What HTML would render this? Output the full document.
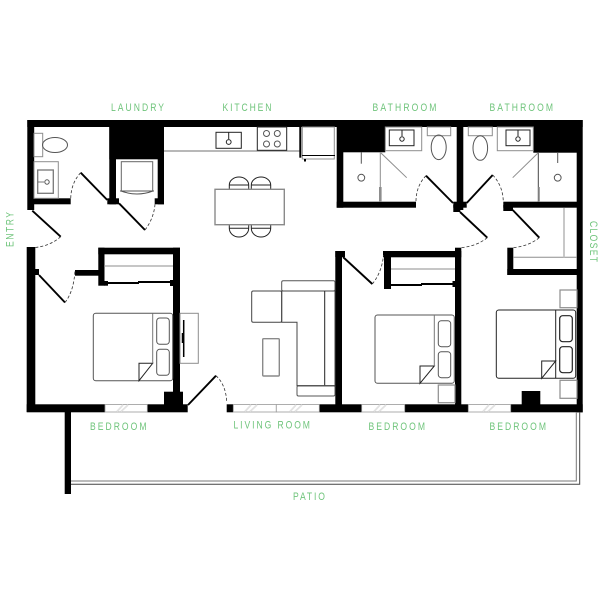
<!DOCTYPE html>
<html><head><meta charset="utf-8"><style>
html,body{margin:0;padding:0;background:#fff}
svg{display:block}
text{font-family:"Liberation Sans",sans-serif;font-size:11px;fill:#6fc47b}
</style></head><body>
<svg width="605" height="605" viewBox="0 0 605 605" xmlns="http://www.w3.org/2000/svg">
<rect width="605" height="605" fill="#fff"/>
<!-- walls -->
<g fill="#000">
<rect x="27.3" y="120" width="555.4" height="7"/>
<rect x="27.3" y="120" width="6.9" height="90"/>
<rect x="26.7" y="247" width="8.6" height="165"/>
<rect x="35" y="269" width="4" height="6"/>
<rect x="26.7" y="404.3" width="78.3" height="8"/>
<rect x="147.3" y="404.3" width="40.4" height="8"/>
<rect x="226.7" y="404.3" width="6.6" height="8"/>
<rect x="319.3" y="404.3" width="42.4" height="8"/>
<rect x="404.7" y="404.3" width="63.6" height="8"/>
<rect x="510.7" y="404.3" width="72" height="8"/>
<rect x="576.7" y="120" width="6" height="292.3"/>
<rect x="64.7" y="412" width="6.3" height="82"/>
<rect x="521.7" y="391" width="18.6" height="14"/>
<rect x="164" y="391.7" width="19" height="13"/>
<!-- bedroom 1 closet -->
<rect x="98.3" y="247.7" width="81.7" height="6.6"/>
<rect x="98.3" y="247.7" width="6.2" height="38"/>
<rect x="104" y="281" width="4" height="4.7"/>
<rect x="75" y="270" width="23.5" height="5.7"/>
<rect x="173" y="247.7" width="7" height="157"/>
<rect x="170" y="280" width="3.5" height="6"/>
<rect x="104" y="282" width="35" height="2"/>
<rect x="138" y="281" width="35" height="2"/>
<!-- laundry -->
<rect x="109.3" y="127" width="54.7" height="32.3"/>
<rect x="109.3" y="127" width="6.7" height="77.3"/>
<rect x="157.7" y="127" width="6.3" height="77.3"/>
<rect x="107.3" y="198.3" width="11.7" height="6"/>
<rect x="154.7" y="198.3" width="9.3" height="6"/>
<rect x="34" y="198.3" width="36.7" height="6"/>
<!-- bath 2 -->
<rect x="336.7" y="120" width="6.6" height="87.7"/>
<rect x="336.7" y="201.7" width="79.3" height="6"/>
<rect x="337" y="127" width="48.3" height="25.3"/>
<!-- bath 3 -->
<rect x="456.7" y="120" width="6.6" height="90"/>
<rect x="453.3" y="201.7" width="13.4" height="6"/>
<rect x="453.3" y="205" width="7" height="7"/>
<rect x="533.3" y="127" width="43.7" height="25.7"/>
<rect x="503.3" y="201.7" width="74" height="6"/>
<rect x="503.3" y="205" width="9.7" height="6"/>
<!-- closet 3 -->
<rect x="507.3" y="247.7" width="6" height="27.3"/>
<rect x="507.3" y="269" width="70" height="6"/>
<!-- center wall -->
<rect x="335.3" y="251" width="6.7" height="154"/>
<rect x="335.3" y="251" width="9.7" height="6"/>
<!-- bedroom 2 closet -->
<rect x="383" y="251" width="78.3" height="6.3"/>
<rect x="384" y="251" width="7" height="38"/>
<rect x="455" y="247.7" width="6.3" height="157"/>
<rect x="391" y="284" width="31" height="2"/>
<rect x="421" y="283" width="34" height="2"/>
<rect x="452.5" y="281" width="3" height="6"/>
</g>
<!-- door leaves -->
<g stroke="#000" stroke-width="1.9" fill="none">
<line x1="32.3" y1="210.7" x2="60.7" y2="236.7"/>
<line x1="39" y1="275" x2="65" y2="302.5"/>
<line x1="107.3" y1="200" x2="80.7" y2="172.7"/>
<line x1="119" y1="203.3" x2="145" y2="230"/>
<line x1="188" y1="405" x2="216" y2="375.7"/>
<line x1="343" y1="257" x2="372.3" y2="284"/>
<line x1="453" y1="203" x2="426" y2="175.7"/>
<line x1="466.7" y1="203" x2="492.7" y2="175"/>
<line x1="460" y1="212" x2="487.3" y2="237.7"/>
<line x1="512.7" y1="210" x2="539.3" y2="237.7"/>
</g>
<!-- door arcs -->
<g stroke="#333" stroke-width=".8" stroke-dasharray="3 2" fill="none">
<path d="M60.7 236.7Q50 246 35 247.5"/>
<path d="M65 302.5Q74 291 75 270"/>
<path d="M80.7 172.7Q71 183 70.7 199"/>
<path d="M145 230Q154 218 155 204"/>
<path d="M216 375.7Q226 385 226.7 402"/>
<path d="M372.3 284Q382 272 383.5 255"/>
<path d="M426 175.7Q416 186 416 201.7"/>
<path d="M492.7 175Q503 186 503.3 201.7"/>
<path d="M487.3 237.7Q477 246 461 247.7"/>
<path d="M539.3 237.7Q529 246 513 247.7"/>
</g>
<!-- windows -->
<g fill="#fff" stroke="#999" stroke-width=".8">
<rect x="105" y="404.6" width="42.3" height="7.4"/>
<rect x="233.3" y="404.6" width="43" height="7.4"/>
<rect x="276.3" y="404.6" width="43" height="7.4"/>
<rect x="361.7" y="404.6" width="43" height="7.4"/>
<rect x="468.3" y="404.6" width="42.4" height="7.4"/>
</g>
<g stroke="#e2e2e2" stroke-width="1.8" fill="none">
<path d="M117 411.5L123 405M121 411.5L128 405"/>
<path d="M245 411.5L251 405M250 411.5L257 405"/>
<path d="M290 411.5L296 405M295 411.5L302 405"/>
<path d="M374 411.5L380 405M379 411.5L386 405"/>
<path d="M483 411.5L489 405M488 411.5L495 405"/>
</g>
<!-- gray details -->
<g fill="none" stroke="#8d8d8d" stroke-width="1">
<line x1="164" y1="151" x2="300" y2="151" stroke-width="1.2"/>
<rect x="34" y="133.3" width="8.7" height="23.4"/>
<rect x="34" y="161.7" width="24.3" height="36.6"/>
<line x1="104" y1="266" x2="173" y2="266"/>
<line x1="391" y1="269" x2="455" y2="269"/>
<line x1="513" y1="257.3" x2="577" y2="257.3"/>
<line x1="564" y1="208" x2="564" y2="257.3" stroke="#bbb" stroke-width="1.6"/>
<rect x="180" y="313.3" width="18.3" height="50"/>
<rect x="385.3" y="127" width="36.4" height="23.7"/>
<rect x="427.3" y="127" width="23.4" height="8.7"/>
<rect x="468.3" y="127" width="24" height="8.7"/>
<rect x="497.3" y="127" width="36" height="23.7"/>
<rect x="438.3" y="385" width="16.7" height="17.7" stroke-width="1.2"/>
<rect x="560" y="290" width="17" height="17.7" stroke-width="1.2"/>
<rect x="560" y="380.3" width="17" height="18" stroke-width="1.2"/>
<line x1="380.3" y1="152" x2="380.3" y2="202"/>
<line x1="538.3" y1="153" x2="538.3" y2="202" stroke="#444"/>
<line x1="380.3" y1="187" x2="380.3" y2="202" stroke-width="2.6"/>
<line x1="539" y1="187" x2="539" y2="202" stroke-width="1.6"/>
<line x1="381" y1="153" x2="406.7" y2="177.7"/>
<line x1="538" y1="153" x2="512.7" y2="177.7"/>
<rect x="302.3" y="127" width="32" height="32"/>
</g>
<!-- fixtures -->
<g fill="none" stroke="#555" stroke-width="1">
<ellipse cx="55" cy="145" rx="12.5" ry="7.5"/>
<rect x="37.7" y="170" width="15.6" height="23.3" stroke="#777" stroke-width="1.3"/>
<circle cx="47" cy="182" r="2.2"/>
<line x1="38" y1="182" x2="44" y2="182" stroke-width=".8"/>
<ellipse cx="438.7" cy="147.3" rx="7.5" ry="12.3"/>
<ellipse cx="480.3" cy="148" rx="7.3" ry="12.3"/>
<circle cx="361.3" cy="177.7" r="3.4"/>
<line x1="361.3" y1="152" x2="361.3" y2="163.7"/>
<circle cx="557.7" cy="177.7" r="3.4"/>
<line x1="557.7" y1="153" x2="557.7" y2="163"/>
<rect x="121.3" y="161.7" width="31.4" height="29.3" stroke="#666"/>
<path d="M121 191Q137 197 153 191"/>
<line x1="120" y1="191" x2="154" y2="191"/>
</g>
<g fill="none" stroke="#222" stroke-width="1">
<rect x="389.3" y="130" width="24.7" height="15.7"/>
<circle cx="402" cy="139" r="2.2"/>
<line x1="402" y1="130" x2="402" y2="136"/>
<rect x="506" y="130" width="24" height="15.7"/>
<circle cx="518" cy="139" r="2.2"/>
<line x1="518" y1="130" x2="518" y2="136"/>
<rect x="216" y="132.3" width="25.3" height="16"/>
<circle cx="228.7" cy="142" r="2.4"/>
<line x1="228.7" y1="132.3" x2="228.7" y2="139"/>
<rect x="257.3" y="127" width="29.4" height="23.3"/>
<g stroke="#555"><circle cx="266.5" cy="133.5" r="3"/><circle cx="277.3" cy="133.5" r="3"/><circle cx="266.5" cy="144" r="3"/><circle cx="277.3" cy="144" r="3"/></g>
<line x1="302" y1="155.5" x2="335" y2="155.5" stroke="#000"/>
<line x1="300.3" y1="127" x2="300.3" y2="157.7" stroke="#000" stroke-width="2"/>
<rect x="304" y="159" width="2" height="2.5" fill="#000" stroke="none"/>
<!-- chairs -->
<path d="M229.3 189V185A9.7 8 0 0 1 248.7 185V189M229.3 185H248.7"/>
<path d="M251.3 189V185A9.7 8 0 0 1 270.7 185V189M251.3 185H270.7"/>
<path d="M229.3 224.7V228.3A9.7 8.7 0 0 0 248.7 228.3V224.7M229.3 228.3H248.7"/>
<path d="M251.3 224.7V228.3A9.7 8.7 0 0 0 270.7 228.3V224.7M251.3 228.3H270.7"/>
<!-- sofa -->
<rect x="281.7" y="280.7" width="53.3" height="10.3" rx="1.5" stroke="#555"/>
<rect x="251.7" y="291" width="30" height="31.3" rx="1.5" stroke="#444"/>
<path d="M281.7 291H335V385.7H297V322.3H281.7Z" stroke="#444"/>
<line x1="324.7" y1="291" x2="324.7" y2="385.7"/>
<line x1="297" y1="385.7" x2="335" y2="385.7"/>
<rect x="297" y="385.7" width="38" height="10.3" rx="1.5" stroke="#555"/>
<!-- beds -->
<rect x="93.3" y="313.3" width="79.4" height="67.4" rx="2.5" stroke="#555"/>
<rect x="156.7" y="318" width="12.6" height="26.3" rx="3" stroke="#555"/>
<rect x="156.7" y="349.3" width="12.6" height="26" rx="3" stroke="#555"/>
<path d="M139 380.7V363.3H152.7Z" fill="#fff"/>
<rect x="375" y="315" width="79.3" height="68.3" rx="2.5" stroke="#555"/>
<rect x="438.3" y="320.7" width="12.4" height="26" rx="3" stroke="#555"/>
<rect x="438.3" y="351.7" width="12.4" height="26" rx="3" stroke="#555"/>
<path d="M420 383.3V366H434.3Z" fill="#fff"/>
<rect x="496.3" y="310" width="79.4" height="68.3" rx="2.5"/>
<rect x="559.7" y="315.7" width="12.6" height="26" rx="3" stroke-width="1.2"/>
<rect x="559.7" y="346.7" width="12.6" height="26" rx="3" stroke-width="1.2"/>
<path d="M541.7 378.3V361H555.7Z" fill="#fff"/>
<line x1="555.7" y1="310" x2="555.7" y2="378.3"/>
</g>
<g stroke="#777" stroke-width="1" fill="none">
<line x1="152.7" y1="313.3" x2="152.7" y2="363.3"/>
<line x1="434.3" y1="315" x2="434.3" y2="366"/>
</g>
<g stroke="#000" fill="none">
<line x1="183.7" y1="320" x2="183.7" y2="357" stroke-width="1.5"/>
<line x1="182.5" y1="333" x2="182.5" y2="343" stroke-width="1.5"/>
</g>
<g fill="none" stroke="#8a8a8a" stroke-width="1.4">
<rect x="215" y="189.3" width="69.3" height="35.4"/>
<rect x="262.7" y="338.7" width="16.6" height="37.3" rx="1"/>
</g>
<!-- patio -->
<g fill="none">
<path d="M71 481H576.3V412" stroke="#777" stroke-width="1"/>
<path d="M71 484.3H579.7V412" stroke="#444" stroke-width="1"/>
</g>
<!-- labels: glyphs condensed horizontally, widely tracked -->
<text transform="translate(111 111) scale(.78 1)" textLength="68" lengthAdjust="spacing">LAUNDRY</text>
<text transform="translate(222.5 111) scale(.78 1)" textLength="62.8" lengthAdjust="spacing">KITCHEN</text>
<text transform="translate(372.5 111) scale(.78 1)" textLength="82" lengthAdjust="spacing">BATHROOM</text>
<text transform="translate(489.5 111) scale(.78 1)" textLength="81.4" lengthAdjust="spacing">BATHROOM</text>
<text transform="translate(90 430) scale(.78 1)" textLength="72.4" lengthAdjust="spacing">BEDROOM</text>
<text transform="translate(233.5 428.3) scale(.78 1)" textLength="98" lengthAdjust="spacing">LIVING ROOM</text>
<text transform="translate(368.5 430) scale(.78 1)" textLength="72.4" lengthAdjust="spacing">BEDROOM</text>
<text transform="translate(489.5 430) scale(.78 1)" textLength="72.4" lengthAdjust="spacing">BEDROOM</text>
<text transform="translate(293 500) scale(.78 1)" textLength="41" lengthAdjust="spacing">PATIO</text>
<text transform="translate(13.5 247) rotate(-90) scale(.78 1)" textLength="44.9" lengthAdjust="spacing">ENTRY</text>
<text transform="translate(590 221) rotate(90) scale(.78 1)" textLength="52.6" lengthAdjust="spacing">CLOSET</text>
</svg>
</body></html>
